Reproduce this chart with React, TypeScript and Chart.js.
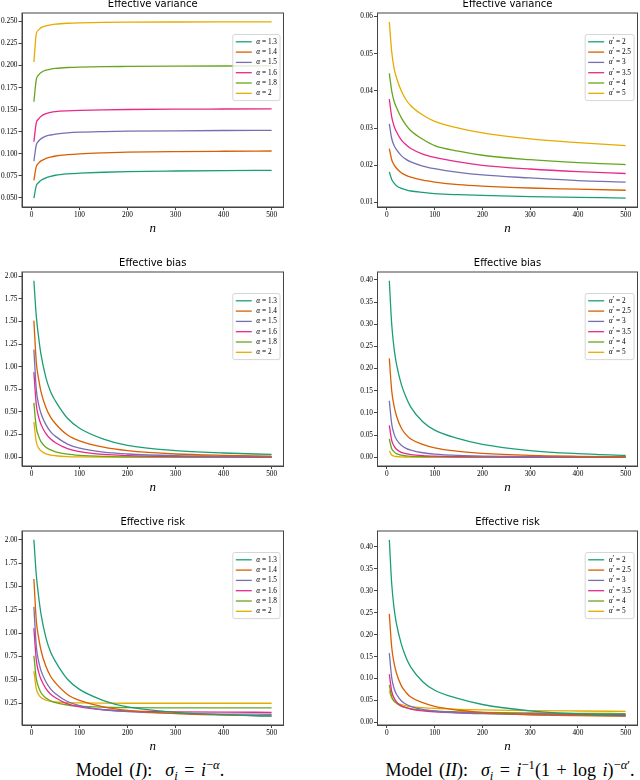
import React, { useEffect, useRef } from "react";
import { Chart, registerables } from "chart.js";

Chart.register(...registerables);

// ---------- data ----------
const nValues = [5, 10, 15, 20, 30, 40, 50, 75, 100, 150, 200, 300, 400, 500];

const seriesColors = ["#1b9e77", "#d95f02", "#7570b3", "#e7298a", "#66a61e", "#e6ab02"];
const alphaI = ["1.3", "1.4", "1.5", "1.6", "1.8", "2"];
const alphaII = ["2", "2.5", "3", "3.5", "4", "5"];

// Model (I): effective variance
const var1_13 = [0.0497, 0.0636, 0.0675, 0.07, 0.0728, 0.0745, 0.0757, 0.0772, 0.078, 0.0791, 0.0798, 0.0805, 0.081, 0.0813];
const var1_14 = [0.07, 0.0855, 0.0895, 0.092, 0.0947, 0.0963, 0.0975, 0.099, 0.1, 0.1011, 0.1018, 0.1025, 0.1029, 0.1032];
const var1_15 = [0.0918, 0.11, 0.1145, 0.1172, 0.12, 0.1213, 0.1222, 0.1237, 0.1245, 0.1252, 0.1256, 0.1261, 0.1264, 0.1266];
const var1_16 = [0.1137, 0.135, 0.1395, 0.1425, 0.1455, 0.147, 0.1478, 0.1487, 0.1492, 0.1498, 0.1502, 0.1506, 0.1508, 0.151];
const var1_18 = [0.159, 0.184, 0.1895, 0.1922, 0.1948, 0.196, 0.1968, 0.1978, 0.1983, 0.1988, 0.199, 0.1993, 0.1995, 0.1996];
const var1_20 = [0.204, 0.236, 0.2405, 0.243, 0.245, 0.2462, 0.247, 0.248, 0.2485, 0.249, 0.2492, 0.2494, 0.2495, 0.2496];

// Model (I): effective bias
const bias1_13 = [1.95, 1.56, 1.32, 1.13, 0.88, 0.72, 0.62, 0.43, 0.32, 0.2, 0.13, 0.072, 0.046, 0.03];
const bias1_14 = [1.51, 1.05, 0.86, 0.72, 0.55, 0.44, 0.37, 0.245, 0.18, 0.11, 0.072, 0.035, 0.02, 0.012];
const bias1_15 = [1.19, 0.75, 0.58, 0.48, 0.36, 0.28, 0.23, 0.145, 0.1, 0.055, 0.035, 0.016, 0.008, 0.005];
const bias1_16 = [0.94, 0.58, 0.44, 0.36, 0.26, 0.2, 0.16, 0.095, 0.062, 0.03, 0.017, 0.007, 0.003, 0.002];
const bias1_18 = [0.6, 0.33, 0.23, 0.17, 0.11, 0.08, 0.06, 0.033, 0.02, 0.008, 0.004, 0.0015, 0.0008, 0.0005];
const bias1_20 = [0.39, 0.17, 0.1, 0.068, 0.037, 0.023, 0.016, 0.007, 0.004, 0.0015, 0.0007, 0.0003, 0.0001, 0.0001];

// Model (I): effective risk
const risk1_13 = [2.0, 1.624, 1.388, 1.2, 0.953, 0.795, 0.696, 0.507, 0.398, 0.279, 0.21, 0.153, 0.127, 0.111];
const risk1_14 = [1.58, 1.136, 0.95, 0.812, 0.645, 0.536, 0.468, 0.344, 0.28, 0.211, 0.174, 0.138, 0.123, 0.115];
const risk1_15 = [1.282, 0.86, 0.695, 0.597, 0.48, 0.401, 0.352, 0.269, 0.225, 0.18, 0.161, 0.142, 0.134, 0.132];
const risk1_16 = [1.054, 0.715, 0.58, 0.503, 0.406, 0.347, 0.308, 0.244, 0.211, 0.18, 0.167, 0.158, 0.154, 0.153];
const risk1_18 = [0.759, 0.514, 0.42, 0.362, 0.305, 0.276, 0.257, 0.231, 0.218, 0.207, 0.203, 0.201, 0.2, 0.2];
const risk1_20 = [0.594, 0.406, 0.341, 0.311, 0.282, 0.269, 0.263, 0.255, 0.253, 0.251, 0.25, 0.25, 0.25, 0.25];

// Model (II): effective variance
const var2_20 = [0.0182, 0.0162, 0.0152, 0.0145, 0.0138, 0.0134, 0.0131, 0.0127, 0.0124, 0.0121, 0.0119, 0.0116, 0.0114, 0.0112];
const var2_25 = [0.0245, 0.0215, 0.0201, 0.0192, 0.018, 0.0173, 0.0168, 0.016, 0.0155, 0.0148, 0.0144, 0.0139, 0.0136, 0.0133];
const var2_30 = [0.0311, 0.0272, 0.0253, 0.0242, 0.0226, 0.0216, 0.0209, 0.0198, 0.0191, 0.0181, 0.0174, 0.0166, 0.0159, 0.0155];
const var2_35 = [0.0378, 0.033, 0.0305, 0.029, 0.0268, 0.0255, 0.0245, 0.023, 0.0221, 0.0209, 0.02, 0.019, 0.0183, 0.0178];
const var2_40 = [0.0447, 0.04, 0.0372, 0.0355, 0.0328, 0.0308, 0.0293, 0.027, 0.0253, 0.0238, 0.0227, 0.0215, 0.0207, 0.0202];
const var2_50 = [0.0585, 0.0505, 0.046, 0.0435, 0.04, 0.0376, 0.036, 0.0335, 0.0318, 0.03, 0.0287, 0.0271, 0.0261, 0.0253];

// Model (II): effective bias
const bias2_20 = [0.398, 0.3, 0.245, 0.21, 0.165, 0.135, 0.113, 0.08, 0.061, 0.042, 0.029, 0.015, 0.008, 0.004];
const bias2_25 = [0.223, 0.15, 0.115, 0.093, 0.066, 0.051, 0.041, 0.029, 0.021, 0.013, 0.0085, 0.004, 0.002, 0.001];
const bias2_30 = [0.127, 0.075, 0.052, 0.04, 0.027, 0.02, 0.016, 0.01, 0.007, 0.004, 0.0025, 0.001, 0.0005, 0.0003];
const bias2_35 = [0.072, 0.038, 0.025, 0.018, 0.011, 0.008, 0.006, 0.0035, 0.0023, 0.0012, 0.0007, 0.0003, 0.0001, 0.0001];
const bias2_40 = [0.041, 0.019, 0.012, 0.008, 0.0045, 0.003, 0.002, 0.001, 0.0006, 0.0003, 0.0002, 0.0001, 0.0, 0.0];
const bias2_50 = [0.014, 0.005, 0.0025, 0.0015, 0.0007, 0.0004, 0.0002, 0.0001, 0.0001, 0.0, 0.0, 0.0, 0.0, 0.0];

// Model (II): effective risk
const risk2_20 = [0.416, 0.316, 0.26, 0.2245, 0.179, 0.148, 0.126, 0.0927, 0.0734, 0.0541, 0.0409, 0.0266, 0.0194, 0.0152];
const risk2_25 = [0.2475, 0.1715, 0.1351, 0.1122, 0.084, 0.0683, 0.0578, 0.045, 0.0365, 0.0278, 0.0229, 0.0179, 0.0156, 0.0143];
const risk2_30 = [0.1581, 0.1022, 0.0773, 0.0642, 0.0496, 0.0416, 0.0369, 0.0298, 0.0261, 0.0221, 0.0199, 0.0176, 0.0164, 0.0158];
const risk2_35 = [0.1098, 0.071, 0.0555, 0.047, 0.0378, 0.0335, 0.0305, 0.0265, 0.0244, 0.0221, 0.0207, 0.0193, 0.0184, 0.0179];
const risk2_40 = [0.0857, 0.059, 0.0492, 0.0435, 0.0373, 0.0338, 0.0313, 0.028, 0.0259, 0.0241, 0.0229, 0.0216, 0.0207, 0.0202];
const risk2_50 = [0.0725, 0.0555, 0.0485, 0.045, 0.0407, 0.038, 0.0362, 0.0336, 0.0319, 0.03, 0.0287, 0.0271, 0.0261, 0.0253];

// tick values
const xTicks = [0, 100, 200, 300, 400, 500];
const yTicksVarI = [0.05, 0.075, 0.1, 0.125, 0.15, 0.175, 0.2, 0.225, 0.25];
const yTicksVarII = [0.01, 0.02, 0.03, 0.04, 0.05, 0.06];
const yTicksBiasI = [0, 0.25, 0.5, 0.75, 1.0, 1.25, 1.5, 1.75, 2.0];
const yTicksBiasII = [0, 0.05, 0.1, 0.15, 0.2, 0.25, 0.3, 0.35, 0.4];
const yTicksRiskI = [0.25, 0.5, 0.75, 1.0, 1.25, 1.5, 1.75, 2.0];
const yTicksRiskII = [0, 0.05, 0.1, 0.15, 0.2, 0.25, 0.3, 0.35, 0.4];

// ---------- layout ----------
const ROW_TOP = [13, 272, 531];
const PLOT_H = 194;
const PAD_T = 18;
const PAD_B = 29;
const COLS = [
  { left: 0, width: 320, padL: 22, padR: 36.5 },
  { left: 320, width: 320, padL: 57.5, padR: 2.5 },
];
const X_MIN = -19.75;
const X_MAX = 524.75;

const SERIF = '"Liberation Serif", "DejaVu Serif", serif';
const TICK_SIZE = 7.3;
const AXIS_COLOR = "#444";

type PanelSpec = {
  title: string;
  series: number[][];
  sym: string;
  params: string[];
  yTicks: number[];
  yMin: number;
  yMax: number;
  dec: number;
  row: number;
  col: number;
};

const panels: PanelSpec[] = [
  { title: "Effective variance", series: [var1_13, var1_14, var1_15, var1_16, var1_18, var1_20], sym: "α", params: alphaI, yTicks: yTicksVarI, yMin: 0.0397, yMax: 0.2596, dec: 3, row: 0, col: 0 },
  { title: "Effective variance", series: [var2_20, var2_25, var2_30, var2_35, var2_40, var2_50], sym: "α′", params: alphaII, yTicks: yTicksVarII, yMin: 0.0088, yMax: 0.0609, dec: 2, row: 0, col: 1 },
  { title: "Effective bias", series: [bias1_13, bias1_14, bias1_15, bias1_16, bias1_18, bias1_20], sym: "α", params: alphaI, yTicks: yTicksBiasI, yMin: -0.0975, yMax: 2.0475, dec: 2, row: 1, col: 0 },
  { title: "Effective bias", series: [bias2_20, bias2_25, bias2_30, bias2_35, bias2_40, bias2_50], sym: "α′", params: alphaII, yTicks: yTicksBiasII, yMin: -0.0199, yMax: 0.4179, dec: 2, row: 1, col: 1 },
  { title: "Effective risk", series: [risk1_13, risk1_14, risk1_15, risk1_16, risk1_18, risk1_20], sym: "α", params: alphaI, yTicks: yTicksRiskI, yMin: 0.0169, yMax: 2.0944, dec: 2, row: 2, col: 0 },
  { title: "Effective risk", series: [risk2_20, risk2_25, risk2_30, risk2_35, risk2_40, risk2_50], sym: "α′", params: alphaII, yTicks: yTicksRiskII, yMin: -0.0058, yMax: 0.4363, dec: 2, row: 2, col: 1 },
];

// frame + in-plot legend (matplotlib style)
const frameLegendPlugin = {
  id: "frameLegend",
  afterDatasetsDraw(chart: any) {
    const { ctx, chartArea: a } = chart;
    ctx.save();
    ctx.strokeStyle = AXIS_COLOR;
    ctx.lineWidth = 1;
    ctx.strokeRect(a.left, a.top, a.right - a.left, a.bottom - a.top);

    const italic = `italic ${TICK_SIZE}px ${SERIF}`;
    const normal = `${TICK_SIZE}px ${SERIF}`;
    const items = chart.data.datasets.map((ds: any) => {
      const label: string = ds.label;
      const k = label.indexOf(" ");
      const sym = label.slice(0, k);
      const base = sym.replace("′", "");
      const prime = sym.length > base.length ? "′" : "";
      const rest = label.slice(k);
      ctx.font = italic;
      const w1 = ctx.measureText(base).width;
      ctx.font = normal;
      const w2 = ctx.measureText(prime).width;
      const w3 = ctx.measureText(rest).width;
      return { base, prime, rest, w1, w2, w3, color: ds.borderColor };
    });
    const maxW = Math.max(...items.map((it: any) => it.w1 + it.w2 + it.w3));
    const padX = 3;
    const handle = 16;
    const gap = 4.5;
    const rowH = 10.3;
    const first = 7.3;
    const boxW = padX + handle + gap + maxW + padX;
    const boxH = first * 2 + rowH * (items.length - 1);
    const x0 = a.right - 3.5 - boxW;
    const y0 = a.top + 21.5;
    ctx.beginPath();
    if ((ctx as any).roundRect) (ctx as any).roundRect(x0, y0, boxW, boxH, 2);
    else ctx.rect(x0, y0, boxW, boxH);
    ctx.fillStyle = "rgba(255,255,255,0.8)";
    ctx.fill();
    ctx.strokeStyle = "#cccccc";
    ctx.lineWidth = 0.8;
    ctx.stroke();
    items.forEach((it: any, i: number) => {
      const cy = y0 + first + i * rowH;
      ctx.beginPath();
      ctx.strokeStyle = it.color;
      ctx.lineWidth = 1.3;
      ctx.moveTo(x0 + padX, cy);
      ctx.lineTo(x0 + padX + handle, cy);
      ctx.stroke();
      let tx = x0 + padX + handle + gap;
      ctx.fillStyle = "#000";
      ctx.textBaseline = "middle";
      ctx.textAlign = "left";
      ctx.font = italic;
      ctx.fillText(it.base, tx, cy);
      tx += it.w1;
      ctx.font = normal;
      if (it.prime) {
        ctx.fillText(it.prime, tx, cy - 1);
        tx += it.w2;
      }
      ctx.fillText(it.rest, tx, cy);
    });
    ctx.restore();
  },
};

function Panel({ spec }: { spec: PanelSpec }) {
  const ref = useRef<HTMLCanvasElement>(null);
  const col = COLS[spec.col];
  const top = ROW_TOP[spec.row] - PAD_T;
  const height = PAD_T + PLOT_H + PAD_B;

  useEffect(() => {
    if (!ref.current) return;
    const chart = new Chart(ref.current, {
      type: "line",
      data: {
        datasets: spec.series.map((s, i) => ({
          label: `${spec.sym} = ${spec.params[i]}`,
          data: nValues.map((n, j) => ({ x: n, y: s[j] })),
          borderColor: seriesColors[i],
          backgroundColor: seriesColors[i],
          borderWidth: 1.3,
          pointRadius: 0,
          pointHoverRadius: 0,
          cubicInterpolationMode: "monotone",
          fill: false,
        })),
      },
      options: {
        responsive: false,
        animation: false,
        events: [],
        layout: { padding: { left: 0, right: col.padR, top: 0, bottom: 0 } },
        plugins: {
          legend: { display: false },
          tooltip: { enabled: false },
          title: {
            display: true,
            text: spec.title,
            fullSize: false,
            color: "#000",
            font: { family: '"DejaVu Sans", sans-serif', size: 10, weight: "normal" },
            padding: { top: 3.5, bottom: 2.5 },
          },
        },
        scales: {
          x: {
            type: "linear",
            min: X_MIN,
            max: X_MAX,
            afterBuildTicks: (s: any) => {
              s.ticks = xTicks.map((v) => ({ value: v }));
            },
            afterFit: (s: any) => {
              s.height = PAD_B;
            },
            ticks: {
              autoSkip: false,
              maxRotation: 0,
              padding: 0.5,
              color: "#000",
              font: { family: SERIF, size: TICK_SIZE },
              callback: (v: any) => String(v),
            },
            grid: { drawOnChartArea: false, drawTicks: true, tickLength: 3, color: AXIS_COLOR, lineWidth: 1 },
            border: { display: true, color: AXIS_COLOR, width: 1 },
            title: {
              display: true,
              text: "n",
              color: "#000",
              font: { family: SERIF, size: 13, style: "italic" },
              padding: { top: 0, bottom: 0 },
            },
          },
          y: {
            type: "linear",
            min: spec.yMin,
            max: spec.yMax,
            afterBuildTicks: (s: any) => {
              s.ticks = spec.yTicks.map((v) => ({ value: v }));
            },
            afterFit: (s: any) => {
              s.width = col.padL;
            },
            ticks: {
              autoSkip: false,
              padding: 1,
              color: "#000",
              font: { family: SERIF, size: TICK_SIZE },
              callback: (v: any) => Number(v).toFixed(spec.dec),
            },
            grid: { drawOnChartArea: false, drawTicks: true, tickLength: 3.5, color: AXIS_COLOR, lineWidth: 1 },
            border: { display: true, color: AXIS_COLOR, width: 1 },
          },
        },
      } as any,
      plugins: [frameLegendPlugin],
    });
    return () => chart.destroy();
  }, []);

  return (
    <canvas
      ref={ref}
      width={col.width}
      height={height}
      style={{ position: "absolute", left: col.left, top, width: col.width, height, display: "block" }}
    />
  );
}

const supStyle: React.CSSProperties = { fontSize: "0.7em", verticalAlign: "0.55em", lineHeight: 0 };
const subStyle: React.CSSProperties = { fontSize: "0.7em", verticalAlign: "-0.3em", lineHeight: 0 };

export default function App() {
  return (
    <div
      style={{
        position: "absolute",
        left: 0,
        top: 0,
        width: 640,
        height: 780,
        overflow: "hidden",
        background: "#fff",
      }}
    >
      {panels.map((p, i) => (
        <Panel key={i} spec={p} />
      ))}
      <div
        style={{
          position: "absolute",
          left: 0,
          width: 300,
          top: 759,
          textAlign: "center",
          fontFamily: SERIF,
          fontSize: 18,
          lineHeight: "22px",
          wordSpacing: 2,
          color: "#000",
          whiteSpace: "nowrap",
        }}
      >
        Model (<i>I</i>):&nbsp; <i>σ</i>
        <i style={subStyle}>i</i> = <i>i</i>
        <span style={supStyle}>
          −<i>α</i>
        </span>
        .
      </div>
      <div
        style={{
          position: "absolute",
          left: 360,
          width: 300,
          top: 759,
          textAlign: "center",
          fontFamily: SERIF,
          fontSize: 18,
          lineHeight: "22px",
          wordSpacing: 2,
          color: "#000",
          whiteSpace: "nowrap",
        }}
      >
        Model (<i>II</i>):&nbsp; <i>σ</i>
        <i style={subStyle}>i</i> = <i>i</i>
        <span style={supStyle}>−1</span>(1 + log <i>i</i>)
        <span style={supStyle}>
          −<i>α</i>′
        </span>
        .
      </div>
    </div>
  );
}
